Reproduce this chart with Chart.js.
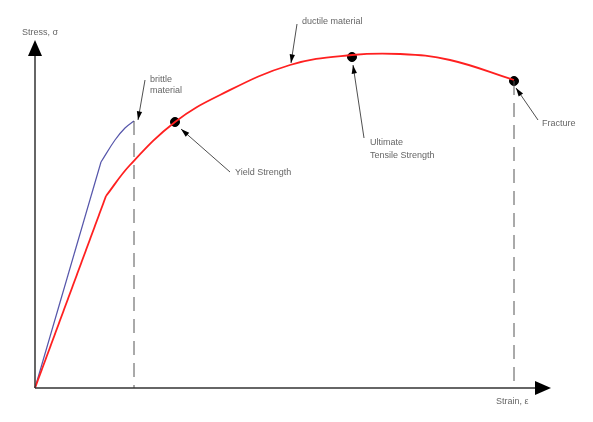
<!DOCTYPE html>
<html><head><meta charset="utf-8">
<script src="https://cdn.jsdelivr.net/npm/chart.js@4/dist/chart.umd.min.js"></script>
<style>html,body{margin:0;background:#fff}#wrap{width:593px;height:422px}</style>
</head><body><div id="wrap"><canvas id="c"></canvas></div>
<script>
// strain / stress in picture units (origin at the axes corner)
const ductileElasticStrain = [0, 71];
const ductileElasticStress = [0, 192];
const ductileStrain = [71, 95, 140, 185, 255, 317, 365, 415, 479];
const ductileStress = [192, 223, 266, 293, 323, 333, 334, 328, 308];
const brittleElasticStrain = [0, 66];
const brittleElasticStress = [0, 226];
const brittleStrain = [66, 80, 90, 99];
const brittleStress = [226, 248, 260, 267];
const markStrain = [140, 317, 479];
const markStress = [266, 331, 307];

const toPts = (xs, ys) => xs.map((x, i) => ({ x, y: ys[i] }));

const overlay = {
  id: "overlay",
  afterDatasetsDraw(chart) {
    const { ctx, scales: { x, y } } = chart;
    const px = (v) => x.getPixelForValue(v), py = (v) => y.getPixelForValue(v);
    const ox = px(0), oy = py(0);
    ctx.save();
    // dashed verticals
    ctx.strokeStyle = "#555"; ctx.lineWidth = 1; ctx.setLineDash([14, 8]);
    [[99, 267], [479, 307]].forEach(([sx, sy]) => {
      ctx.beginPath(); ctx.moveTo(px(sx), py(sy)); ctx.lineTo(px(sx), oy); ctx.stroke();
    });
    ctx.setLineDash([]);
    // axes
    ctx.strokeStyle = "#333"; ctx.lineWidth = 1.5; ctx.fillStyle = "#000";
    ctx.beginPath(); ctx.moveTo(ox, oy); ctx.lineTo(ox, 55); ctx.stroke();
    ctx.beginPath(); ctx.moveTo(ox, 40); ctx.lineTo(ox - 7, 56); ctx.lineTo(ox + 7, 56); ctx.fill();
    ctx.beginPath(); ctx.moveTo(ox, oy); ctx.lineTo(535, oy); ctx.stroke();
    ctx.beginPath(); ctx.moveTo(551, oy); ctx.lineTo(535, oy - 7); ctx.lineTo(535, oy + 7); ctx.fill();
    // annotation arrows
    ctx.lineWidth = 0.8; ctx.strokeStyle = "#222";
    const arrow = (x1, y1, x2, y2) => {
      ctx.beginPath(); ctx.moveTo(x1, y1); ctx.lineTo(x2, y2); ctx.stroke();
      const a = Math.atan2(y2 - y1, x2 - x1), L = 9, w = 0.3;
      ctx.beginPath(); ctx.moveTo(x2, y2);
      ctx.lineTo(x2 - L * Math.cos(a - w), y2 - L * Math.sin(a - w));
      ctx.lineTo(x2 - L * Math.cos(a + w), y2 - L * Math.sin(a + w)); ctx.fill();
    };
    arrow(145, 80, 138, 120);
    arrow(297, 24, 291, 63);
    arrow(230, 172, 181, 129);
    arrow(364, 138, 353, 65);
    arrow(538, 120, 516, 88);
    // labels
    ctx.fillStyle = "#666"; ctx.font = "9px 'Liberation Sans', Arial"; ctx.textBaseline = "middle";
    ctx.fillText("Stress, σ", 22, 33);
    ctx.fillText("brittle", 150, 80);
    ctx.fillText("material", 150, 91);
    ctx.fillText("ductile material", 302, 22);
    ctx.fillText("Yield Strength", 235, 173);
    ctx.fillText("Ultimate", 370, 143);
    ctx.fillText("Tensile Strength", 370, 156);
    ctx.fillText("Fracture", 542, 124);
    ctx.fillText("Strain, ε", 496, 402);
    ctx.restore();
  },
};

const line = (xs, ys, color, width, tension) => ({
  data: toPts(xs, ys), showLine: true, borderColor: color, borderWidth: width, pointRadius: 0, tension,
});

new Chart(document.getElementById("c"), {
  type: "scatter",
  data: {
    datasets: [
      line(ductileElasticStrain, ductileElasticStress, "#ff2020", 1.8, 0),
      line(ductileStrain, ductileStress, "#ff2020", 1.8, 0.4),
      line(brittleElasticStrain, brittleElasticStress, "#5555aa", 1.2, 0),
      line(brittleStrain, brittleStress, "#5555aa", 1.2, 0.4),
      { data: toPts(markStrain, markStress), showLine: false, pointRadius: 4.5, backgroundColor: "#000", borderColor: "#000" },
    ],
  },
  options: {
    responsive: true, maintainAspectRatio: false, animation: false,
    layout: { padding: 0, autoPadding: false },
    plugins: { legend: { display: false }, tooltip: { enabled: false } },
    scales: {
      x: { type: "linear", min: -35, max: 558, display: false },
      y: { type: "linear", min: -34, max: 388, display: false },
    },
  },
  plugins: [overlay],
});
</script></body></html>
